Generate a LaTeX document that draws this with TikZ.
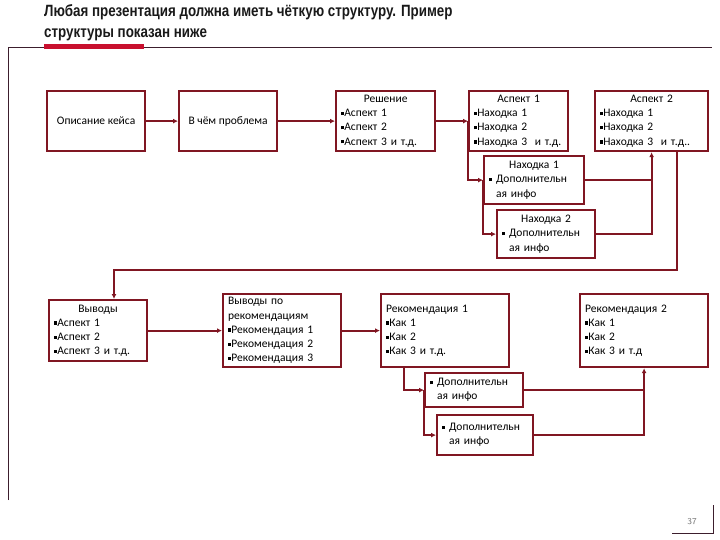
\documentclass[tikz,border=0pt]{standalone}
\usepackage{fontspec}
\setmainfont{Carlito}
\newfontfamily\titlefont[FakeStretch=0.82]{Liberation Sans}
\usepackage{xcolor}
\usepackage{tikz}
\usetikzlibrary{arrows.meta, positioning, calc}

\definecolor{boxred}{RGB}{128,22,34}
\definecolor{barred}{RGB}{200,16,46}
\definecolor{rulegray}{RGB}{60,30,45}

\newcommand{\bsq}{\rule[0.3ex]{0.28em}{0.28em}}
\newcommand{\hd}[1]{{\centering #1\par}}

\begin{document}
\begin{tikzpicture}[
          x=1pt, y=-1pt,
          font=\fontsize{11.5}{14.2}\selectfont,
          box/.style={draw=boxred, line width=2.2pt, fill=white,
                      inner xsep=5pt, inner ysep=2pt, anchor=north west},
          arr/.style={-{Latex[length=5pt,width=5pt]}, draw=boxred, line width=2.2pt},
          ln/.style={draw=boxred, line width=2.2pt}
        ]
          \useasboundingbox (0,0) rectangle (720,540);
          % title and frame
          \node[anchor=north west, align=left, inner sep=0pt,
                font=\titlefont\bfseries\fontsize{16.3}{21}\selectfont,
                text=black!90] (title) at (44,4)
                {Любая презентация должна иметь чёткую структуру. Пример\\
                 структуры показан ниже};
          \draw[rulegray, line width=0.8pt] (8,500) -- (8,47) -- (712,47);
          \fill[barred] (44,44) rectangle (144,49);
          \draw[rulegray, line width=0.8pt] (672,533) -- (713,533) -- (713,505);
          \node[text=black!55, font=\sffamily\fontsize{9}{10}\selectfont] (page) at (692,522) {37};

          % top row
          \node[box, minimum width=98pt, minimum height=60pt, align=center] (case) at (46,90) {Описание кейса};
          \node[box, minimum width=98pt, minimum height=60pt, align=center] (prob) at (178,90) {В чём проблема};
          \node[box, minimum width=99pt, minimum height=60pt, text width=89pt, align=left] (sol) at (335,90)
               {\hd{Решение}\bsq Аспект 1\\\bsq Аспект 2\\\mbox{\bsq Аспект 3 и т.д.}};
          \node[box, minimum width=99pt, minimum height=60pt, text width=89pt, align=left] (asp1) at (468,90)
               {\hd{Аспект 1}\bsq Находка 1\\\bsq Находка 2\\\mbox{\bsq Находка 3\ \ и т.д.}};
          \node[box, minimum width=113pt, minimum height=60pt, text width=103pt, align=left] (asp2) at (594,90)
               {\hd{Аспект 2}\bsq Находка 1\\\bsq Находка 2\\\mbox{\bsq Находка 3\ \ и т.д..}};
          \node[box, minimum width=100pt, minimum height=48pt, text width=90pt, align=left] (f1) at (483,155)
               {\hd{Находка 1}\bsq\ Дополнительн\\\phantom{\bsq\ }ая инфо};
          \node[box, minimum width=98pt, minimum height=48pt, text width=88pt, align=left] (f2) at (496,209)
               {\hd{Находка 2}\bsq\ Дополнительн\\\phantom{\bsq\ }ая инфо};

          % bottom row
          \node[box, minimum width=98pt, minimum height=61pt, text width=88pt, align=left] (con) at (48,299)
               {\hd{Выводы}\bsq Аспект 1\\\bsq Аспект 2\\\mbox{\bsq Аспект 3 и т.д.}};
          \node[box, minimum width=118pt, minimum height=73pt, text width=108pt, align=left] (conrec) at (222,293)
               {Выводы по\\рекомендациям\\\bsq Рекомендация 1\\\bsq Рекомендация 2\\\bsq Рекомендация 3};
          \node[box, minimum width=128pt, minimum height=73pt, text width=118pt, align=left] (rec1) at (380,293)
               {Рекомендация 1\\\bsq Как 1\\\bsq Как 2\\\bsq Как 3 и т.д.};
          \node[box, minimum width=128pt, minimum height=73pt, text width=118pt, align=left] (rec2) at (579,293)
               {Рекомендация 2\\\bsq Как 1\\\bsq Как 2\\\bsq Как 3 и т.д};
          \node[box, minimum width=98pt, minimum height=34pt, text width=88pt, align=left] (d1) at (424,372)
               {\bsq\ Дополнительн\\\phantom{\bsq\ }ая инфо};
          \node[box, minimum width=96pt, minimum height=40pt, text width=86pt, align=left] (d2) at (436,414)
               {\bsq\ Дополнительн\\\phantom{\bsq\ }ая инфо};

          % connectors
          \coordinate (turnR) at (677,270);
          \coordinate (turnL) at (114,270);
          \draw[arr] (case) -- (prob);
          \draw[arr] (prob) -- (sol);
          \draw[arr] (sol) -- (asp1);
          \draw[arr] (asp1.west) |- (f1.west);
          \draw[arr] (f1.west) |- (f2.west);
          \draw[ln] (f1.east) -- (f1.east -| asp2.south);
          \draw[arr] (f2.east) -| (asp2.south);
          \draw[arr] (asp2.south -| turnR) -- (turnR) -- (turnL) -- (turnL |- con.north);
          \draw[arr] (con) -- (conrec);
          \draw[arr] (conrec) -- (rec1);
          \draw[arr] ($(rec1.south west)+(24,0)$) |- (d1.west);
          \draw[arr] (d1.west) |- (d2.west);
          \draw[ln] (d1.east) -- (d1.east -| rec2.south);
          \draw[arr] (d2.east) -| (rec2.south);
        \end{tikzpicture}
\end{document}
